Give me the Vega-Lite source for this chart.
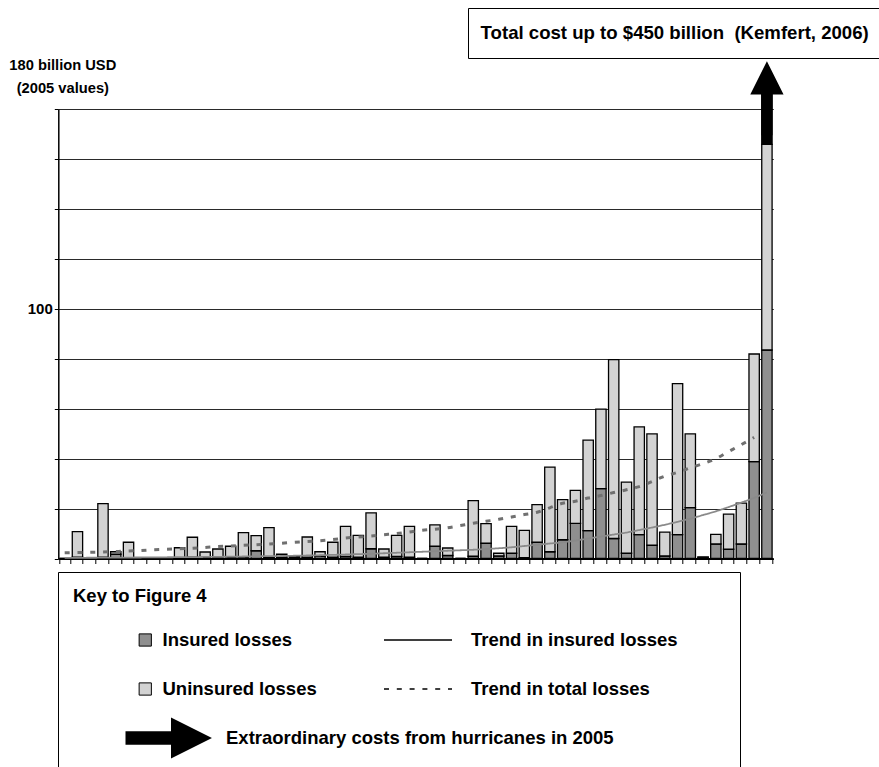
{
  "$schema": "https://vega.github.io/schema/vega-lite/v6.json",
  "width": 715,
  "height": 449.5,
  "autosize": {"type": "none"},
  "padding": {"left": 58.3, "top": 109, "right": 105.7, "bottom": 208.5},
  "background": "white",
  "config": {
    "view": {"stroke": null},
    "font": "Liberation Sans",
    "legend": {
      "orient": "none",
      "direction": "vertical",
      "padding": 0,
      "labelFont": "Liberation Sans",
      "labelFontSize": 18.5,
      "labelFontWeight": "bold",
      "labelColor": "black",
      "labelLimit": 1000,
      "titleFont": "Liberation Sans",
      "titleColor": "black"
    }
  },
  "data": {
    "values": [
      {"year": 1950, "insured": 0, "total": 0, "ti": 0.25, "tt": 2.3},
      {"year": 1951, "insured": 0.5, "total": 10.8, "ti": 0.27, "tt": 2.4},
      {"year": 1952, "insured": 0, "total": 0, "ti": 0.3, "tt": 2.5},
      {"year": 1953, "insured": 0.5, "total": 22.0, "ti": 0.32, "tt": 2.6},
      {"year": 1954, "insured": 1.7, "total": 2.7, "ti": 0.35, "tt": 2.8},
      {"year": 1955, "insured": 0.3, "total": 6.5, "ti": 0.38, "tt": 3.0},
      {"year": 1956, "insured": 0, "total": 0, "ti": 0.41, "tt": 3.2},
      {"year": 1957, "insured": 0, "total": 0, "ti": 0.45, "tt": 3.5},
      {"year": 1958, "insured": 0, "total": 0, "ti": 0.49, "tt": 3.7},
      {"year": 1959, "insured": 0.3, "total": 4.3, "ti": 0.53, "tt": 3.9},
      {"year": 1960, "insured": 0.5, "total": 8.5, "ti": 0.57, "tt": 4.1},
      {"year": 1961, "insured": 0.5, "total": 2.6, "ti": 0.62, "tt": 4.4},
      {"year": 1962, "insured": 0.3, "total": 3.8, "ti": 0.67, "tt": 4.8},
      {"year": 1963, "insured": 0.3, "total": 4.9, "ti": 0.73, "tt": 5.0},
      {"year": 1964, "insured": 0.5, "total": 10.4, "ti": 0.8, "tt": 5.3},
      {"year": 1965, "insured": 3.1, "total": 9.2, "ti": 0.87, "tt": 5.5},
      {"year": 1966, "insured": 0.5, "total": 12.4, "ti": 0.94, "tt": 5.8},
      {"year": 1967, "insured": 0.5, "total": 1.7, "ti": 1.0, "tt": 6.1},
      {"year": 1968, "insured": 0.2, "total": 0.8, "ti": 1.1, "tt": 6.5},
      {"year": 1969, "insured": 0.5, "total": 8.6, "ti": 1.2, "tt": 6.8},
      {"year": 1970, "insured": 1.0, "total": 2.7, "ti": 1.3, "tt": 7.1},
      {"year": 1971, "insured": 0.5, "total": 6.5, "ti": 1.45, "tt": 7.6},
      {"year": 1972, "insured": 0.8, "total": 12.9, "ti": 1.6, "tt": 8.2},
      {"year": 1973, "insured": 0.5, "total": 9.3, "ti": 1.75, "tt": 8.6},
      {"year": 1974, "insured": 3.9, "total": 18.3, "ti": 1.9, "tt": 9.0},
      {"year": 1975, "insured": 0.5, "total": 3.8, "ti": 2.1, "tt": 9.5},
      {"year": 1976, "insured": 0.8, "total": 9.3, "ti": 2.3, "tt": 10.0},
      {"year": 1977, "insured": 0.5, "total": 12.9, "ti": 2.5, "tt": 10.6},
      {"year": 1978, "insured": 0, "total": 0, "ti": 2.7, "tt": 11.3},
      {"year": 1979, "insured": 4.9, "total": 13.5, "ti": 2.9, "tt": 11.7},
      {"year": 1980, "insured": 1.2, "total": 4.2, "ti": 3.1, "tt": 12.3},
      {"year": 1981, "insured": 0, "total": 0, "ti": 3.3, "tt": 13.2},
      {"year": 1982, "insured": 0.9, "total": 23.2, "ti": 3.5, "tt": 14.1},
      {"year": 1983, "insured": 6.1, "total": 14.0, "ti": 3.8, "tt": 14.9},
      {"year": 1984, "insured": 1.0, "total": 2.1, "ti": 4.1, "tt": 15.7},
      {"year": 1985, "insured": 2.1, "total": 12.9, "ti": 4.5, "tt": 16.6},
      {"year": 1986, "insured": 0.3, "total": 11.3, "ti": 5.0, "tt": 17.6},
      {"year": 1987, "insured": 6.5, "total": 21.6, "ti": 5.5, "tt": 18.5},
      {"year": 1988, "insured": 2.7, "total": 36.6, "ti": 6.0, "tt": 20.3},
      {"year": 1989, "insured": 7.5, "total": 23.6, "ti": 6.5, "tt": 22.1},
      {"year": 1990, "insured": 14.1, "total": 27.3, "ti": 7.2, "tt": 22.9},
      {"year": 1991, "insured": 11.2, "total": 47.4, "ti": 8.0, "tt": 24.2},
      {"year": 1992, "insured": 28.0, "total": 59.8, "ti": 8.8, "tt": 25.2},
      {"year": 1993, "insured": 8.0, "total": 79.6, "ti": 9.6, "tt": 26.4},
      {"year": 1994, "insured": 2.1, "total": 30.6, "ti": 10.4, "tt": 27.5},
      {"year": 1995, "insured": 9.6, "total": 52.7, "ti": 11.4, "tt": 28.8},
      {"year": 1996, "insured": 5.3, "total": 49.9, "ti": 12.4, "tt": 30.8},
      {"year": 1997, "insured": 1.0, "total": 10.6, "ti": 13.5, "tt": 33.0},
      {"year": 1998, "insured": 9.6, "total": 70.0, "ti": 14.7, "tt": 34.5},
      {"year": 1999, "insured": 20.4, "total": 49.9, "ti": 16.0, "tt": 36.3},
      {"year": 2000, "insured": 0.5, "total": 0.6, "ti": 17.4, "tt": 38.0},
      {"year": 2001, "insured": 5.8, "total": 9.7, "ti": 18.9, "tt": 40.0},
      {"year": 2002, "insured": 3.7, "total": 17.8, "ti": 20.6, "tt": 42.8},
      {"year": 2003, "insured": 5.8, "total": 22.2, "ti": 22.4, "tt": 45.6},
      {"year": 2004, "insured": 38.8, "total": 81.9, "ti": 24.3, "tt": 48.5},
      {"year": 2005, "insured": 83.5, "total": 165.8, "ti": 26.5, "tt": null}
    ]
  },
  "layer": [
    {
      "mark": {"type": "bar", "stroke": "black", "strokeWidth": 1.3},
      "encoding": {
        "x": {
          "field": "year", "type": "ordinal",
          "scale": {"type": "band", "paddingInner": 0.19, "paddingOuter": 0.095},
          "axis": {"labels": false, "title": null, "tickBand": "extent", "domainColor": "black", "domainWidth": 2, "tickColor": "black", "tickSize": 5, "tickWidth": 1, "grid": false}
        },
        "y": {
          "field": "insured", "type": "quantitative", "stack": null,
          "title": ["180 billion USD", "(2005 values)"],
          "scale": {"domain": [0, 180], "nice": false},
          "axis": {
            "values": [0, 20, 40, 60, 80, 100, 120, 140, 160, 180],
            "grid": true, "gridColor": "#2a2a2a", "gridWidth": 1,
            "domainColor": "black", "domainWidth": 1.5,
            "tickColor": "black", "tickSize": 4, "tickWidth": 1,
            "labelExpr": "datum.value == 100 ? '100' : ''",
            "labelFont": "Liberation Sans", "labelFontSize": 15, "labelFontWeight": "bold", "labelColor": "black", "labelPadding": 2,
            "titleAngle": 0, "titleAlign": "center", "titleBaseline": "alphabetic",
            "titleX": 4, "titleY": -40, "titleFont": "Liberation Sans", "titleFontSize": 14.7, "titleFontWeight": "bold", "titleColor": "black", "titleLineHeight": 23
          }
        },
        "fill": {
          "datum": "Insured losses", "type": "nominal",
          "scale": {"domain": ["Insured losses", "Uninsured losses"], "range": ["#8f8f8f", "#d3d3d3"]},
          "legend": {"title": null, "legendX": 77.7, "legendY": 521.5, "symbolType": "square", "symbolSize": 150, "symbolStrokeColor": "black", "symbolStrokeWidth": 1, "clipHeight": 19, "rowPadding": 30, "labelOffset": 8}
        },
        "opacity": {
          "datum": "Key", "type": "ordinal",
          "scale": {"range": [1, 1]},
          "legend": {
            "title": "Key to Figure 4", "legendX": -0.3, "legendY": 463, "padding": 15, "strokeColor": "black",
            "titleFontSize": 18.5, "titleFontWeight": "bold", "titlePadding": 4,
            "symbolType": "M-1,0H1", "symbolSize": 425104, "symbolStrokeWidth": 0,
            "symbolStrokeColor": "rgba(0,0,0,0)", "symbolFillColor": "rgba(0,0,0,0)",
            "labelExpr": "''", "labelOffset": 0, "clipHeight": 170
          }
        }
      }
    },
    {
      "mark": {"type": "bar", "stroke": "black", "strokeWidth": 1.3},
      "encoding": {
        "x": {"field": "year", "type": "ordinal"},
        "y": {"field": "insured", "type": "quantitative", "stack": null, "title": ["180 billion USD", "(2005 values)"]},
        "y2": {"field": "total"},
        "fill": {"datum": "Uninsured losses", "type": "nominal"}
      }
    },
    {
      "mark": {"type": "line", "color": "#8a8a8a", "strokeWidth": 1.8, "interpolate": "monotone"},
      "encoding": {
        "x": {"field": "year", "type": "ordinal"},
        "y": {"field": "ti", "type": "quantitative", "title": ["180 billion USD", "(2005 values)"]},
        "strokeDash": {
          "datum": "Trend in insured losses", "type": "nominal",
          "scale": {"domain": ["Trend in insured losses", "Trend in total losses"], "range": [[1, 0], [5, 7.8]]},
          "legend": {
            "title": null, "legendX": 324.7, "legendY": 521.5,
            "symbolType": "stroke", "symbolSize": 4624, "symbolStrokeColor": "black", "symbolStrokeWidth": 1.5,
            "clipHeight": 19, "rowPadding": 30, "labelOffset": 18
          }
        }
      }
    },
    {
      "mark": {"type": "line", "color": "#707070", "strokeWidth": 3, "interpolate": "monotone"},
      "encoding": {
        "x": {"field": "year", "type": "ordinal"},
        "y": {"field": "tt", "type": "quantitative", "title": ["180 billion USD", "(2005 values)"]},
        "strokeDash": {
          "datum": "Trend in total losses", "type": "nominal",
          "legend": {
            "title": null, "legendX": 324.7, "legendY": 521.5,
            "symbolType": "stroke", "symbolSize": 4624, "symbolStrokeColor": "black", "symbolStrokeWidth": 1.5,
            "clipHeight": 19, "rowPadding": 30, "labelOffset": 18
          }
        }
      }
    },
    {
      "data": {"values": [{"year": 2005, "from": 165.8, "to": 185.8}]},
      "mark": {"type": "bar", "color": "black", "strokeWidth": 1.3},
      "encoding": {
        "x": {"field": "year", "type": "ordinal"},
        "y": {"field": "from", "type": "quantitative", "stack": null, "title": ["180 billion USD", "(2005 values)"]},
        "y2": {"field": "to"},
        "stroke": {
          "datum": "Total cost up to $450 billion \u00a0(Kemfert, 2006)", "type": "nominal",
          "scale": {"range": ["black"]},
          "legend": {
            "title": null, "legendX": 409.7, "legendY": -101, "padding": 10, "strokeColor": "black",
            "symbolType": "M-1,0H1", "symbolSize": 1, "symbolStrokeWidth": 0,
            "symbolFillColor": "rgba(0,0,0,0)",
            "labelFontSize": 18.6, "clipHeight": 30, "labelOffset": -16
          }
        }
      }
    },
    {
      "data": {"values": [{"year": 2005, "from": 165.8, "to": 185.8}]},
      "mark": {"type": "point", "filled": true, "color": "black", "opacity": 1, "angle": -90, "size": 5476},
      "encoding": {
        "x": {"field": "year", "type": "ordinal"},
        "y": {"field": "to", "type": "quantitative", "title": ["180 billion USD", "(2005 values)"]},
        "shape": {
          "datum": "Extraordinary costs from hurricanes in 2005", "type": "nominal",
          "scale": {"range": ["M-1.1,-0.15H0V-0.45L0.9,0L0,0.45V0.15H-1.1Z"]},
          "legend": {
            "title": null, "legendX": 67.2, "legendY": 608,
            "symbolSize": 8281, "symbolFillColor": "black", "symbolStrokeWidth": 0,
            "clipHeight": 42, "labelOffset": 9.5
          }
        }
      }
    }
  ]
}
